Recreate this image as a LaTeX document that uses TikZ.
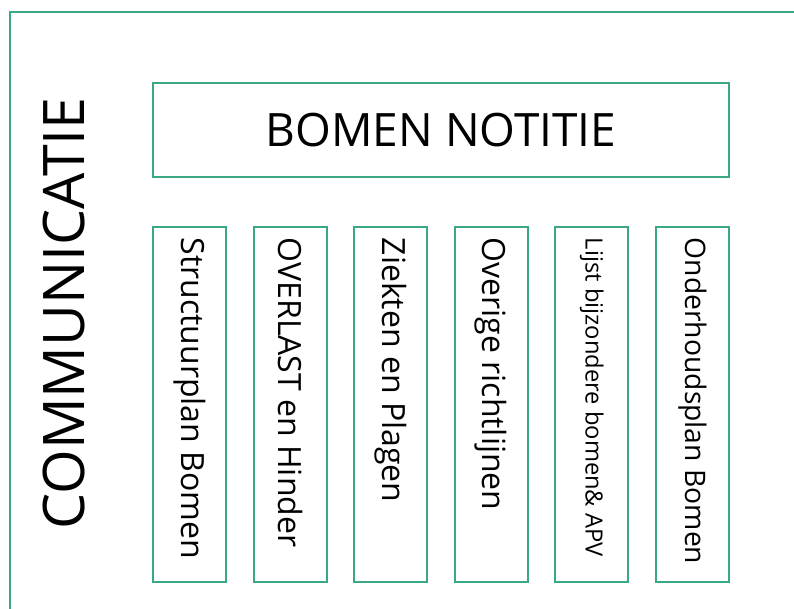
\documentclass[tikz,border=0pt]{standalone}
\usepackage{fontspec}
\setmainfont{Open Sans}
\usepackage{graphicx}
\usetikzlibrary{positioning}
\definecolor{boxgreen}{RGB}{58,168,134}
\newcommand{\vtext}[1]{\rotatebox{-90}{\makebox[250pt][l]{#1}}}

\begin{document}
\begin{tikzpicture}[x=0.75pt,y=-0.75pt,node distance=20.7pt]
	\tikzstyle{rect}=[draw=boxgreen, line width=1.6pt, outer sep=0pt, rectangle, text centered]
	\tikzstyle{rect_v}=[rect, minimum width=54.75pt, minimum height=266.25pt, inner sep=0pt, font=\fontsize{24}{28}\selectfont]

	\useasboundingbox (0,0) rectangle (794,609);
	\clip (0,0) rectangle (794,609);
	\draw[boxgreen, line width=1.6pt] (10,12) rectangle (820,640);

	\node[rotate=90, font=\fontsize{43}{50}\selectfont] (comm) at (64,313.5) {COMMUNICATIE};
	\node[rect, minimum width=432pt, minimum height=70.5pt, font=\fontsize{34.5}{40}\selectfont] (notitie) at (441,130) {BOMEN NOTITIE};
	\node[rect_v] (struct) [below right=37.5pt and 0pt of notitie.south west] {\vtext{Structuurplan Bomen}};
	\node[rect_v] (overlast) [right=of struct] {\vtext{OVERLAST en Hinder}};
	\node[rect_v] (ziekten) [right=of overlast] {\vtext{Ziekten en Plagen}};
	\node[rect_v] (overig) [right=of ziekten] {\vtext{Overige richtlijnen}};
	\node[rect_v, font=\fontsize{17.8}{20}\selectfont] (lijst) [right=of overig] {\vtext{Lijst bijzondere bomen\& APV}};
	\node[rect_v, font=\fontsize{21.2}{25}\selectfont] (onderhoud) [right=of lijst] {\vtext{Onderhoudsplan Bomen}};
\end{tikzpicture}
\end{document}
